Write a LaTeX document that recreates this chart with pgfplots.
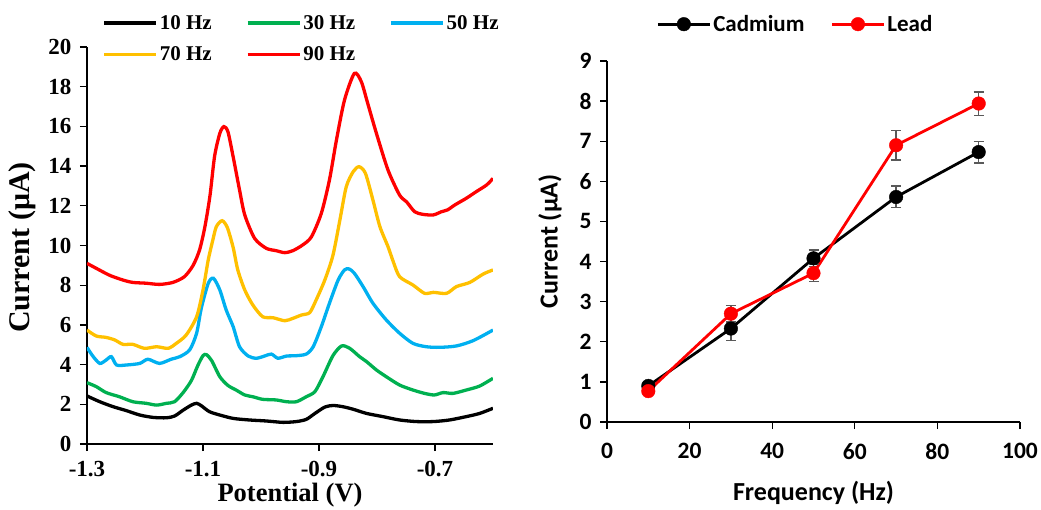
\documentclass[border=0pt]{standalone}
\usepackage{pgfplots}
\pgfplotsset{compat=1.18}
\usepackage{fontspec}
\setmainfont{Liberation Serif}
\newfontfamily\calfont{Carlito}

\definecolor{c10}{RGB}{0,0,0}
\definecolor{c30}{RGB}{0,176,80}
\definecolor{c50}{RGB}{0,176,240}
\definecolor{c70}{RGB}{255,192,0}
\definecolor{c90}{RGB}{255,0,0}
\definecolor{errgray}{RGB}{89,89,89}

\begin{document}
\begin{tikzpicture}
% ---------------- Square wave voltammograms ----------------
\begin{axis}[
  at={(0pt,0pt)}, anchor=south west,
  scale only axis, width=406pt, height=397pt,
  xmin=-1.3, xmax=-0.6, ymin=0, ymax=20,
  axis x line*=bottom, axis y line*=left,
  axis line style={line width=1.3pt},
  every tick/.style={black, line width=1.3pt},
  tick align=outside, major tick length=7pt,
  xtick={-1.3,-1.1,-0.9,-0.7},
  xticklabels={-1.3,-1.1,-0.9,-0.7},
  ytick={0,2,...,20},
  /pgf/number format/assume math mode=true,
  ticklabel style={font=\fontsize{23}{25}\selectfont\bfseries},
  xticklabel style={yshift=-7pt},
  yticklabel style={xshift=-5pt},
  xlabel={Potential (V)}, ylabel={Current (μA)},
  xlabel style={font=\fontsize{26.5}{28}\selectfont\bfseries,
    at={(axis description cs:0.5,-0.128)}, anchor=center},
  ylabel style={font=\fontsize{30}{32}\selectfont\bfseries,
    at={(axis description cs:-0.160,0.495)}, anchor=center},
  legend columns=3,
  legend style={draw=none, fill=none, at={(axis description cs:0.030,1.090)}, anchor=north west,
    font=\fontsize{21}{23}\selectfont\bfseries,
    /tikz/every even column/.append style={column sep=32pt},
    row sep=12pt},
  legend image code/.code={\draw[#1, line width=3.5pt] (0pt,0pt) -- (52pt,0pt);},
  every axis plot/.append style={line width=3.3pt, smooth, tension=0.45},
]
\addplot[c10] coordinates {
(-1.300,2.42) (-1.278,2.13) (-1.255,1.88) (-1.232,1.68) (-1.209,1.46) (-1.186,1.34)
(-1.163,1.32) (-1.149,1.41) (-1.134,1.71) (-1.120,1.96) (-1.111,2.05) (-1.103,1.93)
(-1.089,1.63) (-1.071,1.46) (-1.048,1.29) (-1.020,1.21) (-0.991,1.16) (-0.962,1.09)
(-0.939,1.13) (-0.922,1.24) (-0.907,1.54) (-0.890,1.86) (-0.876,1.94) (-0.859,1.88)
(-0.841,1.75) (-0.818,1.54) (-0.790,1.38) (-0.761,1.21) (-0.732,1.13) (-0.703,1.13)
(-0.675,1.21) (-0.646,1.38) (-0.623,1.54) (-0.600,1.80)};
\addlegendentry{10 Hz}
\addplot[c30] coordinates {
(-1.300,3.09) (-1.284,2.89) (-1.267,2.59) (-1.244,2.38) (-1.221,2.13) (-1.198,2.05)
(-1.180,1.96) (-1.163,2.05) (-1.149,2.13) (-1.134,2.60) (-1.120,3.20) (-1.109,3.95)
(-1.100,4.45) (-1.094,4.50) (-1.085,4.20) (-1.071,3.39) (-1.057,2.95) (-1.043,2.72)
(-1.028,2.47) (-1.014,2.38) (-0.997,2.25) (-0.974,2.22) (-0.956,2.13) (-0.939,2.13)
(-0.922,2.38) (-0.907,2.64) (-0.893,3.40) (-0.876,4.45) (-0.861,4.94) (-0.847,4.82)
(-0.830,4.40) (-0.818,4.15) (-0.801,3.73) (-0.784,3.39) (-0.761,2.97) (-0.738,2.72)
(-0.718,2.55) (-0.701,2.47) (-0.686,2.59) (-0.669,2.55) (-0.646,2.72) (-0.623,2.92)
(-0.600,3.31)};
\addlegendentry{30 Hz}
\addplot[c50] coordinates {
(-1.300,4.87) (-1.290,4.43) (-1.278,4.06) (-1.267,4.23) (-1.258,4.40) (-1.249,3.98)
(-1.232,3.98) (-1.209,4.06) (-1.195,4.27) (-1.175,4.06) (-1.155,4.27) (-1.140,4.40)
(-1.123,4.74) (-1.111,5.58) (-1.103,6.83) (-1.091,8.09) (-1.082,8.35) (-1.071,7.76)
(-1.060,6.75) (-1.048,5.91) (-1.037,4.90) (-1.022,4.43) (-1.008,4.32) (-0.994,4.43)
(-0.982,4.53) (-0.971,4.32) (-0.956,4.43) (-0.939,4.45) (-0.922,4.53) (-0.910,4.90)
(-0.896,5.91) (-0.882,7.09) (-0.867,8.26) (-0.856,8.77) (-0.848,8.82) (-0.839,8.60)
(-0.824,7.93) (-0.807,7.09) (-0.784,6.25) (-0.761,5.58) (-0.738,5.07) (-0.715,4.90)
(-0.692,4.87) (-0.663,4.94) (-0.634,5.21) (-0.600,5.74)};
\addlegendentry{50 Hz}
\addplot[c70] coordinates {
(-1.300,5.74) (-1.284,5.44) (-1.267,5.37) (-1.252,5.24) (-1.238,5.02) (-1.221,5.02)
(-1.201,4.82) (-1.180,4.90) (-1.160,4.82) (-1.146,5.07) (-1.129,5.49) (-1.111,6.41)
(-1.100,7.76) (-1.091,9.27) (-1.083,10.28) (-1.077,10.95) (-1.067,11.25) (-1.058,10.90)
(-1.048,9.90) (-1.040,8.77) (-1.028,7.76) (-1.014,7.00) (-0.997,6.41) (-0.979,6.36)
(-0.959,6.21) (-0.945,6.33) (-0.930,6.50) (-0.916,6.62) (-0.905,7.25) (-0.890,8.26)
(-0.876,9.50) (-0.864,11.28) (-0.853,12.96) (-0.841,13.72) (-0.831,13.97) (-0.820,13.64)
(-0.807,12.29) (-0.795,10.95) (-0.781,9.94) (-0.772,9.19) (-0.761,8.43) (-0.738,8.01)
(-0.718,7.59) (-0.703,7.64) (-0.680,7.59) (-0.663,7.93) (-0.640,8.14) (-0.617,8.56)
(-0.600,8.77)};
\addlegendentry{70 Hz}
\addplot[c90] coordinates {
(-1.300,9.10) (-1.284,8.85) (-1.261,8.50) (-1.238,8.26) (-1.221,8.14) (-1.198,8.10)
(-1.175,8.04) (-1.152,8.14) (-1.132,8.43) (-1.117,9.00) (-1.106,9.77) (-1.097,10.90)
(-1.088,12.50) (-1.080,14.50) (-1.071,15.65) (-1.064,15.99) (-1.057,15.73) (-1.048,14.47)
(-1.037,12.80) (-1.028,11.54) (-1.011,10.36) (-0.991,9.86) (-0.974,9.74) (-0.959,9.64)
(-0.945,9.74) (-0.928,10.03) (-0.913,10.44) (-0.896,11.62) (-0.882,13.30) (-0.870,15.30)
(-0.856,17.33) (-0.839,18.67) (-0.827,18.25) (-0.816,17.16) (-0.801,15.65) (-0.781,13.80)
(-0.761,12.54) (-0.749,12.20) (-0.735,11.70) (-0.721,11.57) (-0.703,11.54) (-0.689,11.70)
(-0.678,11.80) (-0.666,12.04) (-0.646,12.38) (-0.629,12.71) (-0.611,13.05) (-0.600,13.38)};
\addlegendentry{90 Hz}
\end{axis}

% ---------------- Peak current versus frequency ----------------
\begin{axis}[
  at={(520pt,22pt)}, anchor=south west,
  scale only axis, width=413pt, height=361pt,
  xmin=0, xmax=100, ymin=0, ymax=9,
  axis x line*=bottom, axis y line*=left,
  axis line style={line width=1.3pt},
  every tick/.style={black, line width=1.3pt},
  tick align=outside, major tick length=7pt,
  xtick={0,20,...,100}, ytick={0,1,...,9},
  /pgf/number format/assume math mode=true,
  ticklabel style={font=\fontsize{23.5}{25}\selectfont\calfont\bfseries},
  xticklabel style={yshift=-11pt},
  yticklabel style={xshift=-5pt},
  xlabel={Frequency (Hz)}, ylabel={Current (μA)},
  label style={font=\fontsize{26}{28}\selectfont\calfont\bfseries},
  xlabel style={at={(axis description cs:0.5,-0.196)}, anchor=center},
  ylabel style={at={(axis description cs:-0.138,0.5)}, anchor=center},
  legend columns=2,
  legend style={draw=none, fill=none, at={(axis description cs:0.112,1.102)}, anchor=west,
    font=\fontsize{23}{25}\selectfont\calfont\bfseries,
    /tikz/every even column/.append style={column sep=24pt}},
  legend image code/.code={\draw[#1, mark repeat=2, mark phase=2]
    plot coordinates {(0pt,0pt) (26pt,0pt) (52pt,0pt)};},
  error bars/error bar style={errgray, line width=1.3pt},
  error bars/error mark options={errgray, rotate=90, mark size=5pt, line width=1.3pt},
]
\addplot[black, line width=2.8pt, mark=*, mark size=6.8pt,
  mark options={solid, fill=black, line width=0.4pt},
  error bars/.cd, y dir=both, y explicit]
  coordinates {
  (10,0.90) +- (0,0.10)
  (30,2.33) +- (0,0.29)
  (50,4.08) +- (0,0.21)
  (70,5.61) +- (0,0.27)
  (90,6.73) +- (0,0.27)};
\addlegendentry{Cadmium}
\addplot[c90, line width=2.8pt, mark=*, mark size=6.8pt,
  mark options={solid, fill=c90, line width=0.4pt},
  error bars/.cd, y dir=both, y explicit]
  coordinates {
  (10,0.77) +- (0,0.08)
  (30,2.70) +- (0,0.21)
  (50,3.71) +- (0,0.21)
  (70,6.90) +- (0,0.37)
  (90,7.94) +- (0,0.29)};
\addlegendentry{Lead}
\end{axis}
% page frame: same extent as the full figure
\pgfresetboundingbox
\path (-87pt,-65pt) rectangle (954pt,444pt);
\end{tikzpicture}
\end{document}
